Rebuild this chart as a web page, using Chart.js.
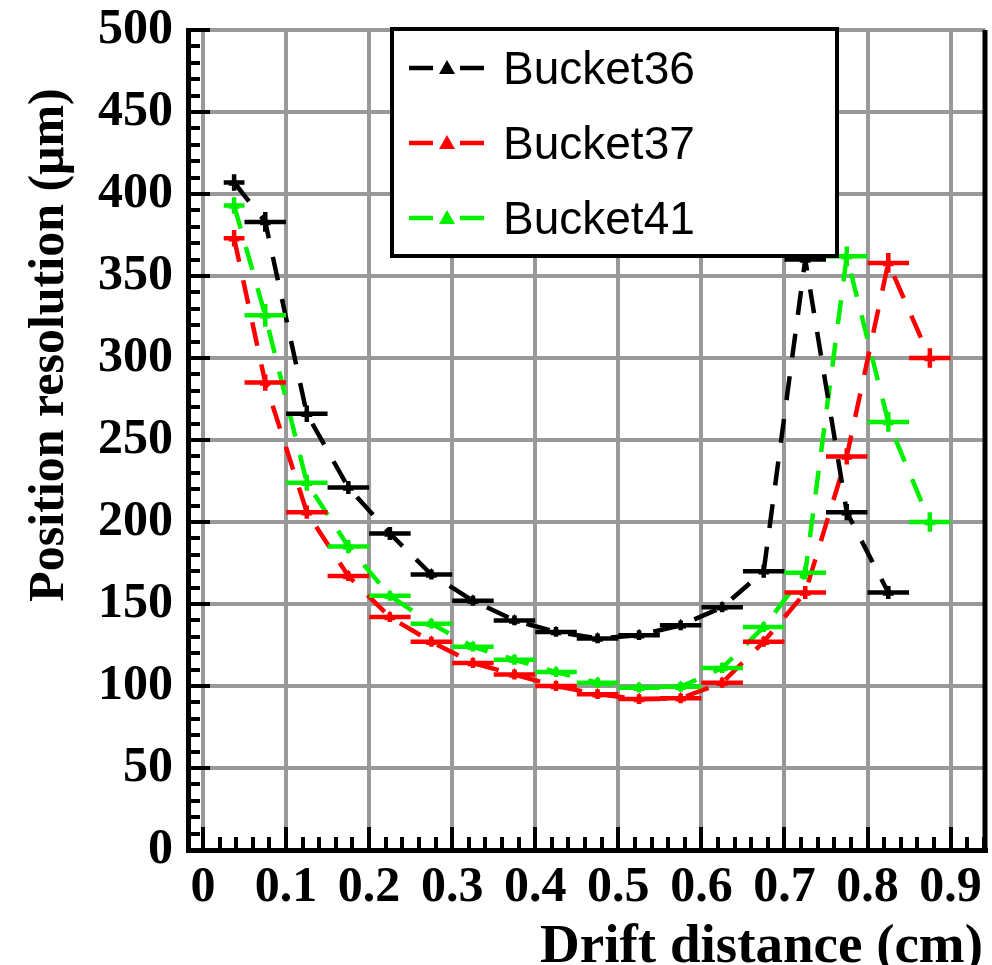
<!DOCTYPE html>
<html>
<head>
<meta charset="utf-8">
<title>Position resolution vs drift distance</title>
<script src="https://cdn.jsdelivr.net/npm/chart.js@4.4.1/dist/chart.umd.min.js"></script>
<style>
  html, body { margin: 0; padding: 0; background: #fff; }
  #wrap { width: 992px; height: 965px; position: relative; }
</style>
</head>
<body>
<div id="wrap"><canvas id="chart" width="992" height="965"></canvas></div>
<script>
// bin centres (cm) and half widths of the horizontal bars
const driftX = [0.0375, 0.075, 0.125, 0.175, 0.225, 0.275, 0.325, 0.375, 0.425,
  0.475, 0.525, 0.575, 0.625, 0.675, 0.725, 0.775, 0.825, 0.875];
const halfWidth = [0.0125, 0.025, 0.025, 0.025, 0.025, 0.025, 0.025, 0.025, 0.025,
  0.025, 0.025, 0.025, 0.025, 0.025, 0.025, 0.025, 0.025, 0.025];

// position resolution (um)
const bucket36 = [407, 383, 266, 221, 193, 168, 152, 140, 133, 129, 131, 137, 148, 170, 360, 206, 157];
const bucket37 = [373, 285, 206, 167, 142, 127, 114, 107, 100, 95, 92, 92.5, 102, 127, 157, 240, 358, 300];
const bucket41 = [393, 326, 224, 185, 155, 138, 124, 116, 108.5, 102, 99, 99.5, 111, 136, 169, 362, 261, 200];

// vertical error (um)
const err36 = [5, 6, 5, 4, 4, 3, 3, 3, 3, 3, 3, 3, 3, 4, 6, 5, 4];
const err37 = [5, 5, 4, 3, 3, 3, 3, 3, 3, 3, 3, 3, 3, 3, 4, 5, 6, 6];
const err41 = [5, 7, 5, 4, 3, 3, 3, 3, 3, 3, 3, 3, 3, 3, 4, 6, 6, 6];

const xTicks = [0, 0.1, 0.2, 0.3, 0.4, 0.5, 0.6, 0.7, 0.8, 0.9];
const xTickLabels = ['0', '0.1', '0.2', '0.3', '0.4', '0.5', '0.6', '0.7', '0.8', '0.9'];
const yTicks = [0, 50, 100, 150, 200, 250, 300, 350, 400, 450, 500];
const yTickLabels = ['0', '50', '100', '150', '200', '250', '300', '350', '400', '450', '500'];

const SERIES = [
  { label: 'Bucket36', color: '#000000', values: bucket36, errors: err36 },
  { label: 'Bucket37', color: '#ff0000', values: bucket37, errors: err37 },
  { label: 'Bucket41', color: '#00f000', values: bucket41, errors: err41 },
];

const SERIF = '"Liberation Serif", "Times New Roman", "DejaVu Serif", serif';
const SANS = '"Liberation Sans", Arial, Helvetica, sans-serif';
const tickFont = { family: SERIF, weight: 'bold', size: 50 };

const datasets = SERIES.map((s) => ({
  label: s.label,
  data: s.values.map((v, i) => ({ x: driftX[i], y: v })),
  showLine: true,
  borderColor: s.color,
  backgroundColor: s.color,
  borderWidth: 4.5,
  borderDash: [24, 19],
  tension: 0,
  pointStyle: 'triangle',
  pointRadius: 6.5,
  pointBorderWidth: 0,
  pointBackgroundColor: s.color,
}));

const framePlugin = {
  id: 'frame',
  beforeDraw(chart) {
    const { ctx } = chart;
    ctx.save();
    ctx.fillStyle = '#fff';
    ctx.fillRect(0, 0, chart.width, chart.height);
    ctx.restore();
  },
  beforeDatasetsDraw(chart) {
    const { ctx, chartArea: a } = chart;
    const xs = chart.scales.x;
    const ys = chart.scales.y;
    ctx.save();
    ctx.strokeStyle = '#000';
    ctx.lineWidth = 4;
    // y axis ticks, every 10 um
    for (let v = 0; v <= 500; v += 10) {
      const y = Math.round(ys.getPixelForValue(v));
      const len = v % 50 === 0 ? 22 : 12;
      ctx.beginPath();
      ctx.moveTo(a.left, y);
      ctx.lineTo(a.left + len, y);
      ctx.stroke();
    }
    // x axis ticks, every 0.02 cm
    for (let k = 0; k <= 47; k++) {
      const x = Math.round(xs.getPixelForValue(k * 0.02));
      if (x > a.right) break;
      const len = k % 5 === 0 ? 23 : 13;
      ctx.beginPath();
      ctx.moveTo(x, a.bottom);
      ctx.lineTo(x, a.bottom - len);
      ctx.stroke();
    }
    // right frame edge
    ctx.lineWidth = 5;
    ctx.beginPath();
    ctx.moveTo(a.right - 0.5, a.top);
    ctx.lineTo(a.right - 0.5, a.bottom + 2.5);
    ctx.stroke();
    ctx.restore();
  },
  afterDatasetsDraw(chart) {
    const { ctx, chartArea: a } = chart;
    const xs = chart.scales.x;
    const ys = chart.scales.y;
    ctx.save();
    // error bars: bin width and resolution error
    ctx.beginPath();
    ctx.rect(a.left, a.top, a.right - a.left, a.bottom - a.top);
    ctx.clip();
    ctx.lineWidth = 4.5;
    SERIES.forEach((s) => {
      ctx.strokeStyle = s.color;
      s.values.forEach((v, i) => {
        const y = ys.getPixelForValue(v);
        const x = xs.getPixelForValue(driftX[i]);
        ctx.beginPath();
        ctx.moveTo(xs.getPixelForValue(driftX[i] - halfWidth[i]), y);
        ctx.lineTo(xs.getPixelForValue(driftX[i] + halfWidth[i]), y);
        ctx.moveTo(x, ys.getPixelForValue(v - s.errors[i]));
        ctx.lineTo(x, ys.getPixelForValue(v + s.errors[i]));
        ctx.stroke();
      });
    });
    ctx.restore();

    // legend box
    ctx.save();
    ctx.fillStyle = '#fff';
    ctx.fillRect(392, 29, 445, 227);
    ctx.strokeStyle = '#000';
    ctx.lineWidth = 4;
    ctx.strokeRect(392, 29, 445, 227);
    ctx.font = `46px ${SANS}`;
    ctx.textBaseline = 'alphabetic';
    ctx.textAlign = 'left';
    SERIES.forEach((s, i) => {
      const cy = 68 + i * 75;
      ctx.strokeStyle = s.color;
      ctx.fillStyle = s.color;
      ctx.lineWidth = 4.5;
      ctx.beginPath();
      ctx.moveTo(409, cy); ctx.lineTo(433, cy);
      ctx.moveTo(460, cy); ctx.lineTo(484, cy);
      ctx.stroke();
      ctx.beginPath();
      ctx.moveTo(447, cy - 8);
      ctx.lineTo(455, cy + 6);
      ctx.lineTo(439, cy + 6);
      ctx.closePath();
      ctx.fill();
      ctx.fillStyle = '#000';
      ctx.fillText(s.label, 503, cy + 16);
    });
    ctx.restore();
  },
  afterDraw(chart) {
    const { ctx } = chart;
    ctx.save();
    ctx.fillStyle = '#000';
    ctx.font = `bold 50px ${SERIF}`;
    ctx.translate(63, 345);
    ctx.rotate(-Math.PI / 2);
    ctx.textAlign = 'center';
    ctx.textBaseline = 'alphabetic';
    ctx.fillText('Position resolution (\u03bcm)', 0, 0);
    ctx.restore();

    ctx.save();
    ctx.fillStyle = '#000';
    ctx.font = `bold 55px ${SERIF}`;
    ctx.textAlign = 'right';
    ctx.textBaseline = 'alphabetic';
    ctx.fillText('Drift distance (cm)', 983, 962);
    ctx.restore();
  },
};

new Chart(document.getElementById('chart'), {
  type: 'scatter',
  data: { datasets },
  options: {
    responsive: false,
    animation: false,
    devicePixelRatio: 1,
    layout: { padding: { top: 30, right: 4, left: 0, bottom: 0 } },
    plugins: { legend: { display: false }, tooltip: { enabled: false } },
    scales: {
      x: {
        type: 'linear',
        min: -0.018,
        max: 0.942,
        afterBuildTicks: (scale) => { scale.ticks = xTicks.map((v) => ({ value: v })); },
        afterFit: (scale) => {
          scale.height = 115;
          scale.paddingLeft = 0;
          scale.paddingRight = 0;
        },
        grid: { color: '#999', lineWidth: 4, drawTicks: false },
        border: { color: '#000', width: 5 },
        ticks: {
          font: tickFont,
          color: '#000',
          padding: 8,
          maxRotation: 0,
          autoSkip: false,
          callback: (v, i) => xTickLabels[i],
        },
      },
      y: {
        type: 'linear',
        min: 0,
        max: 500,
        afterBuildTicks: (scale) => { scale.ticks = yTicks.map((v) => ({ value: v })); },
        afterFit: (scale) => {
          scale.width = 188;
          scale.paddingTop = 0;
          scale.paddingBottom = 0;
        },
        grid: { color: '#999', lineWidth: 4, drawTicks: false },
        border: { color: '#000', width: 5 },
        ticks: {
          font: tickFont,
          color: '#000',
          padding: 15,
          autoSkip: false,
          callback: (v, i) => yTickLabels[i],
        },
      },
    },
  },
  plugins: [framePlugin],
});
</script>
</body>
</html>
